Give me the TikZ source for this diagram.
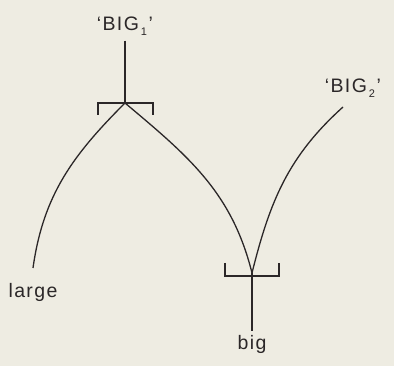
\documentclass[tikz,border=0pt]{standalone}
\usepackage{fontspec}
\setmainfont{Liberation Sans}
\newfontfamily\labfont[LetterSpace=7]{Liberation Sans}
\definecolor{bgPaper}{HTML}{EEECE2}
\definecolor{inkDark}{HTML}{2B2728}
\usetikzlibrary{calc, positioning}
\tikzset{
  word/.style={text=inkDark, inner sep=2pt, font=\labfont\fontsize{19.5}{22}\selectfont},
  arc/.style={draw=inkDark, line width=1.3pt},
  stem/.style={draw=inkDark, line width=1.5pt},
  hook/.style={draw=inkDark, line width=2.2pt, line join=miter}
}
\newcommand{\sensesub}[1]{\raisebox{-0.5ex}{\fontsize{11}{11}\selectfont\,#1\,}}

\begin{document}
\begin{tikzpicture}[x=1pt, y=1pt]
  % paper
  \fill[bgPaper] (0,0) rectangle (394,366);
  \useasboundingbox (0,0) rectangle (394,366);

  % labels
  \node[word] (big1) at (125,340) {‘BIG\sensesub{1}’};
  \node[word] (big2) at (353,278) {‘BIG\sensesub{2}’};
  \node[word] (large) at (33,74) {large};
  \node[word] (big) at (252,22) {big};

  % junctions and free ends
  \coordinate (j1) at (125,263);
  \coordinate (j2) at (252,93);
  \coordinate (largeend) at (33,98);
  \coordinate (big2end) at (343,259);

  % upper bracket
  \draw[stem, shorten <=3pt] (big1) -- (j1);
  \draw[hook] (98,251) -- (98,263) -- (153,263) -- (153,251);

  % lower bracket
  \draw[hook] (225,103) -- (225,90) -- (279,90) -- (279,103);
  \draw[stem, shorten >=2pt] (j2) -- (big);

  % arcs
  \draw[arc] (j1) to[out=225, in=82] (largeend);
  \draw[arc] (j1) to[out=-40, in=104] (j2);
  \draw[arc] (big2end) to[out=222, in=76] (j2);
\end{tikzpicture}
\end{document}
